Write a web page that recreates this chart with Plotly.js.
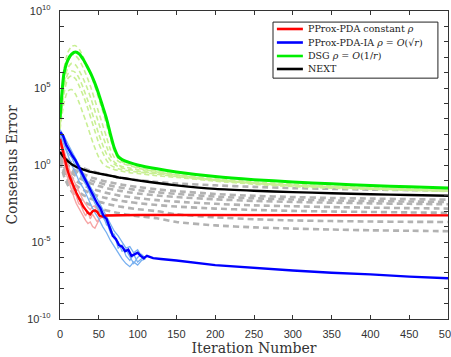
<!DOCTYPE html>
<html>
<head>
<meta charset="utf-8">
<script src="https://cdn.plot.ly/plotly-3.0.1.min.js"></script>
<style>
  html, body { margin: 0; padding: 0; background: #ffffff; }
  #chart { width: 451px; height: 357px; }
</style>
</head>
<body>
<div id="chart"></div>
<script>
// Iteration grids
const iterSmooth = [0,5,10,15,20,25,30,35,40,45,50,55,60,65,70,75,80,90,100,125,150,200,250,300,350,400,450,500];
const iterRed = [0,3,6,9,12,15,18,21,24,27,30,33,36,39,42,45,48,51,55,60,80,100,150,200,300,400,500];
const iterBlue = [0,4,8,12,16,20,24,28,32,36,40,44,48,52,56,60,64,68,72,76,80,84,88,92,96,100,104,108,112,116,120,130,150,200,250,300,350,400,450,500];
const iterBlueRuns = [0,5,10,15,20,25,30,35,40,45,50,55,60,65,70,75,80,85,90,95,100,105,110];

// Legend entries
const seriesNames = [
  'PProx-PDA constant <i>ρ</i>',
  'PProx-PDA-IA <i>ρ</i> = <i>O</i>(√<i>r</i>)',
  'DSG <i>ρ</i> = <i>O</i>(1/<i>r</i>)',
  'NEXT'
];

// Averaged consensus error
const dsgMean = [1e3,7.94e5,6.31e6,1.58e7,2.14e7,1.58e7,7.08e6,2.51e6,7.94e5,2.0e5,3.98e4,6.31e3,1e3,100,12.6,3.55,2.24,1.41,1.0,0.562,0.355,0.178,0.112,0.0794,0.0603,0.0468,0.038,0.0316];
const nextMean = [7.08,3.16,1.78,1.12,0.794,0.631,0.501,0.417,0.355,0.316,0.282,0.251,0.224,0.2,0.178,0.158,0.145,0.12,0.1,0.0676,0.0479,0.0282,0.0214,0.0174,0.0148,0.0126,0.0112,0.01];
const pdaMean = [50.1,10,2.0,0.631,0.2,0.0794,0.0355,0.0158,0.00794,0.00355,0.002,0.00126,0.000794,0.000631,0.001,0.00112,0.000891,0.000501,0.000447,0.000525,0.00055,0.000562,0.000562,0.000562,0.000562,0.00055,0.000537];
const pdaIaMean = [141,79.4,20,7.94,3.98,2.0,0.794,0.316,0.1,0.0501,0.0158,0.00794,0.00316,0.00158,0.000501,0.000316,0.0001,2.51e-5,1.58e-5,6.31e-6,5.01e-6,2.51e-6,3.16e-6,1.26e-6,1.58e-6,2.0e-6,1.26e-6,8.91e-7,1.26e-6,1e-6,8.91e-7,7.94e-7,6.31e-7,3.16e-7,2.0e-7,1.41e-7,1e-7,7.94e-8,5.62e-8,4.47e-8];

// Individual DSG runs
const dsgRun1 = [1.58e3,1.58e6,2.0e7,5.01e7,5.62e7,3.16e7,1e7,2.51e6,6.31e5,1.26e5,2.0e4,3.16e3,398,50.1,7.94,2.51,1.58,1.0,0.708,0.398,0.251,0.126,0.0794,0.0562,0.0427,0.0339,0.0282,0.024];
const dsgRun2 = [631,2.0e5,2.0e6,3.98e6,3.16e6,1.26e6,3.98e5,1e5,2.0e4,3.16e3,501,79.4,15.8,3.98,1.58,1.0,0.794,0.631,0.501,0.316,0.224,0.112,0.0708,0.0501,0.038,0.0302,0.0251,0.0214];
const dsgRun3 = [316,3.98e4,3.98e5,6.31e5,3.98e5,1.26e5,3.16e4,6.31e3,1e3,158,25.1,6.31,2.0,1.0,0.708,0.562,0.501,0.398,0.355,0.251,0.178,0.1,0.0631,0.0447,0.0355,0.0282,0.0234,0.02];
const dsgRun4 = [200,1e4,6.31e4,7.94e4,3.98e4,1e4,2.0e3,398,63.1,12.6,3.16,1.26,0.794,0.631,0.501,0.447,0.398,0.316,0.282,0.2,0.158,0.0891,0.0562,0.0398,0.0316,0.0263,0.0224,0.0191];
const dsgRun5 = [1e3,6.31e5,7.94e6,1.58e7,1.26e7,6.31e6,2.0e6,5.01e5,1e5,1.58e4,2.51e3,398,63.1,10,3.16,1.78,1.26,0.891,0.631,0.355,0.224,0.112,0.0708,0.0501,0.0398,0.0316,0.0263,0.0224];
const dsgRun6 = [398,1e5,7.94e5,1.26e6,1e6,3.98e5,1e5,2.0e4,3.98e3,631,100,20,5.01,2.0,1.12,0.794,0.631,0.501,0.398,0.282,0.2,0.1,0.0631,0.0468,0.0355,0.0295,0.0251,0.0209];

// Individual NEXT runs
const nextRun1 = [7.94,3.98,2.24,1.41,1.0,0.794,0.631,0.501,0.417,0.355,0.302,0.263,0.229,0.2,0.178,0.158,0.141,0.12,0.105,0.0794,0.0631,0.0479,0.038,0.0316,0.0282,0.0251,0.0234,0.0219];
const nextRun2 = [5.01,2.0,1.0,0.631,0.447,0.316,0.251,0.2,0.158,0.132,0.112,0.0955,0.0832,0.0741,0.0661,0.0589,0.0525,0.0437,0.0372,0.0263,0.02,0.0132,0.01,0.00832,0.00724,0.00661,0.00603,0.00562];
const nextRun3 = [4.47,1.58,0.759,0.447,0.302,0.214,0.158,0.126,0.1,0.0832,0.0708,0.0603,0.0525,0.0457,0.0407,0.0363,0.0331,0.0275,0.0234,0.017,0.0132,0.00891,0.00692,0.00575,0.00501,0.00457,0.00427,0.00398];
const nextRun4 = [3.98,1.26,0.562,0.316,0.2,0.141,0.105,0.0794,0.0631,0.0525,0.0437,0.0372,0.0316,0.0275,0.0245,0.0219,0.02,0.0166,0.0141,0.0105,0.00832,0.00589,0.00468,0.00398,0.00355,0.00324,0.00302,0.00282];
const nextRun5 = [3.16,0.794,0.316,0.158,0.1,0.0676,0.0501,0.038,0.0302,0.0251,0.0209,0.0178,0.0155,0.0135,0.012,0.0107,0.00977,0.00832,0.00708,0.00525,0.00417,0.00302,0.0024,0.00209,0.00186,0.0017,0.00158,0.00148];
const nextRun6 = [2.51,0.501,0.178,0.0891,0.0501,0.0331,0.024,0.0182,0.0141,0.0115,0.00955,0.00813,0.00708,0.00631,0.00562,0.00501,0.00457,0.00389,0.00331,0.00251,0.002,0.00148,0.0012,0.00105,0.000955,0.000891,0.000832,0.000794];
const nextRun7 = [2.0,0.316,0.1,0.0447,0.0251,0.0158,0.0112,0.00832,0.00631,0.00501,0.00417,0.00355,0.00302,0.00263,0.00234,0.00209,0.00191,0.00158,0.00135,0.001,0.000631,0.000398,0.000302,0.000251,0.000229,0.000214,0.000204,0.0002];
const nextRun8 = [1.58,0.2,0.0501,0.02,0.01,0.00631,0.00427,0.00316,0.0024,0.00191,0.00158,0.00132,0.00112,0.000977,0.000851,0.000759,0.000676,0.000562,0.000479,0.000347,0.0002,0.00012,8.91e-5,7.41e-5,6.46e-5,5.75e-5,5.37e-5,5.01e-5];

// Individual PProx-PDA runs
const pdaRun1 = [31.6,3.98,0.794,0.2,0.0631,0.02,0.00794,0.00316,0.00158,0.000794,0.000398,0.000251,0.000158,0.0002,0.0001,7.94e-5,0.000158,0.000316,0.000447,0.000525,0.00055,0.000562,0.000562,0.000562,0.000562,0.00055,0.000537];
const pdaRun2 = [79.4,20,5.01,1.58,0.501,0.2,0.0891,0.0398,0.02,0.01,0.00501,0.00282,0.00178,0.00126,0.002,0.00224,0.00126,0.000794,0.000631,0.000562,0.00055,0.000562,0.000562,0.000562,0.000562,0.00055,0.000537];
const pdaRun3 = [39.8,12.6,1.26,0.794,0.126,0.0631,0.0158,0.01,0.00316,0.00251,0.001,0.000501,0.001,0.000316,0.000631,0.000316,0.0002,0.000398,0.000501,0.000537,0.00055,0.000562,0.000562,0.000562,0.000562,0.00055,0.000537];

// Individual PProx-PDA-IA runs
const pdaIaRun1 = [100,20,3.98,1,0.316,0.0794,0.0316,0.00794,0.00251,0.000794,0.000316,0.0001,3.98e-5,1.26e-5,5.01e-6,2.0e-6,7.94e-7,3.98e-7,2.51e-7,5.01e-7,3.16e-7,6.31e-7,7.94e-7];
const pdaIaRun2 = [200,79.4,25.1,7.94,3.16,1,0.316,0.1,0.0316,0.0126,0.00398,0.00158,0.000501,0.000158,5.01e-5,2.51e-5,1e-5,3.98e-6,5.01e-6,2.0e-6,3.16e-6,1.26e-6,1e-6];
const pdaIaRun3 = [63.1,31.6,6.31,3.16,0.794,0.398,0.1,0.0398,0.01,0.00501,0.00126,0.000398,0.0002,3.98e-5,3.16e-5,3.98e-6,6.31e-6,1.26e-6,6.31e-7,1.58e-6,5.01e-7,7.94e-7,1e-6];
const pdaIaRun4 = [126,39.8,10,3.98,1.58,0.501,0.126,0.0501,0.0126,0.00316,0.00126,0.000631,0.000126,0.0001,1.58e-5,1e-5,2.51e-6,3.16e-6,1e-6,3.98e-7,1e-6,1.58e-6,8.91e-7];

// Axis ticks
const xTicks = [0,50,100,150,200,250,300,350,400,450,500];
const yMajor = [1e-10,1e-5,1,1e5,1e10];
const yMajorText = ['10<sup>-10</sup>','10<sup>-5</sup>','10<sup>0</sup>','10<sup>5</sup>','10<sup>10</sup>'];
const yMinor = [1e-9,1e-8,1e-7,1e-6,1e-4,1e-3,1e-2,1e-1,1e1,1e2,1e3,1e4,1e6,1e7,1e8,1e9];

const colors = {
  pda: '#ff0000', pdaIa: '#0000ff', dsg: '#00ee00', next: '#000000',
  pdaRun: '#f6a5a5', pdaIaRun: '#78b0f0', dsgRun: '#c9ef94', nextRun: '#b2b2b2'
};

function line(x, y, color, width, opts) {
  return Object.assign({
    x: x, y: y, type: 'scatter', mode: 'lines', showlegend: false, hoverinfo: 'skip',
    line: {color: color, width: width}
  }, opts || {});
}
const smooth = {shape: 'spline', smoothing: 0.6};

const traces = [];
// NEXT runs (grey dashed)
[nextRun1, nextRun2, nextRun3, nextRun4, nextRun5, nextRun6, nextRun7, nextRun8].forEach(r => {
  traces.push(line(iterSmooth, r, colors.nextRun, 2.6));
  Object.assign(traces[traces.length - 1].line, smooth, {dash: '6px,4px'});
});
// DSG runs (light green dashed)
[dsgRun1, dsgRun2, dsgRun3, dsgRun4, dsgRun5, dsgRun6].forEach(r => {
  traces.push(line(iterSmooth, r, colors.dsgRun, 1.6));
  Object.assign(traces[traces.length - 1].line, smooth, {dash: '5px,3px'});
});
// PProx-PDA runs
[pdaRun1, pdaRun2, pdaRun3].forEach(r => traces.push(line(iterRed, r, colors.pdaRun, 1.4)));
// PProx-PDA-IA runs
[pdaIaRun1, pdaIaRun2, pdaIaRun3, pdaIaRun4].forEach(r => traces.push(line(iterBlueRuns, r, colors.pdaIaRun, 1.3)));

// Averages
const nextTrace = line(iterSmooth, nextMean, colors.next, 2.4, {name: seriesNames[3]});
Object.assign(nextTrace.line, smooth);
const dsgTrace = line(iterSmooth, dsgMean, colors.dsg, 3, {name: seriesNames[2]});
Object.assign(dsgTrace.line, smooth);
const pdaTrace = line(iterRed, pdaMean, colors.pda, 2.4, {name: seriesNames[0]});
const pdaIaTrace = line(iterBlue, pdaIaMean, colors.pdaIa, 2.4, {name: seriesNames[1]});
traces.push(nextTrace, dsgTrace, pdaTrace, pdaIaTrace);

// Boxed legend drawn in paper coordinates
const legendColors = [colors.pda, colors.pdaIa, colors.dsg, colors.next];
const legendRows = [0.9416, 0.8977, 0.8539, 0.8117];
const shapes = [{
  type: 'rect', xref: 'paper', yref: 'paper', x0: 0.549, x1: 0.974, y0: 0.782, y1: 0.964,
  line: {color: '#222222', width: 1}, fillcolor: '#ffffff', layer: 'above'
}];
const annotations = [];
seriesNames.forEach((name, i) => {
  shapes.push({type: 'line', xref: 'paper', yref: 'paper', x0: 0.559, x1: 0.626,
    y0: legendRows[i], y1: legendRows[i], line: {color: legendColors[i], width: 2.6}, layer: 'above'});
  annotations.push({xref: 'paper', yref: 'paper', x: 0.634, y: legendRows[i], xanchor: 'left', yanchor: 'middle',
    showarrow: false, text: name, font: {family: 'DejaVu Serif', size: 9.5, color: '#222222'}});
});

const axisColor = '#333333';
const layout = {
  width: 451, height: 357,
  margin: {l: 60, r: 3, t: 11, b: 38, pad: 0},
  paper_bgcolor: '#ffffff', plot_bgcolor: '#ffffff',
  showlegend: false,
  font: {family: 'Liberation Sans, Arial, sans-serif', size: 11, color: axisColor},
  xaxis: {
    range: [0, 500], tickvals: xTicks, ticktext: xTicks.map(String),
    ticks: 'inside', ticklen: 4, tickwidth: 1, tickcolor: axisColor,
    showline: true, linecolor: axisColor, linewidth: 1.2, mirror: 'ticks',
    showgrid: false, zeroline: false, ticklabelstandoff: 5, ticklabeloverflow: 'allow',
    tickfont: {size: 11, color: axisColor},
    title: {text: 'Iteration Number', font: {family: 'DejaVu Serif', size: 14, color: axisColor}, standoff: 3}
  },
  yaxis: {
    type: 'log', range: [-10, 10],
    tickvals: yMajor, ticktext: yMajorText,
    ticks: 'inside', ticklen: 4, tickwidth: 1, tickcolor: axisColor,
    minor: {tickvals: yMinor, ticks: 'inside', ticklen: 4, tickwidth: 1, tickcolor: axisColor, showgrid: false},
    showline: true, linecolor: axisColor, linewidth: 1.2, mirror: 'ticks',
    showgrid: false, zeroline: false, ticklabelstandoff: 6,
    tickfont: {size: 11, color: axisColor},
    title: {text: 'Consensus Error', font: {family: 'DejaVu Serif', size: 14, color: axisColor}, standoff: 6}
  },
  shapes: shapes,
  annotations: annotations
};

Plotly.newPlot('chart', traces, layout, {displayModeBar: false, staticPlot: true});
</script>
</body>
</html>
